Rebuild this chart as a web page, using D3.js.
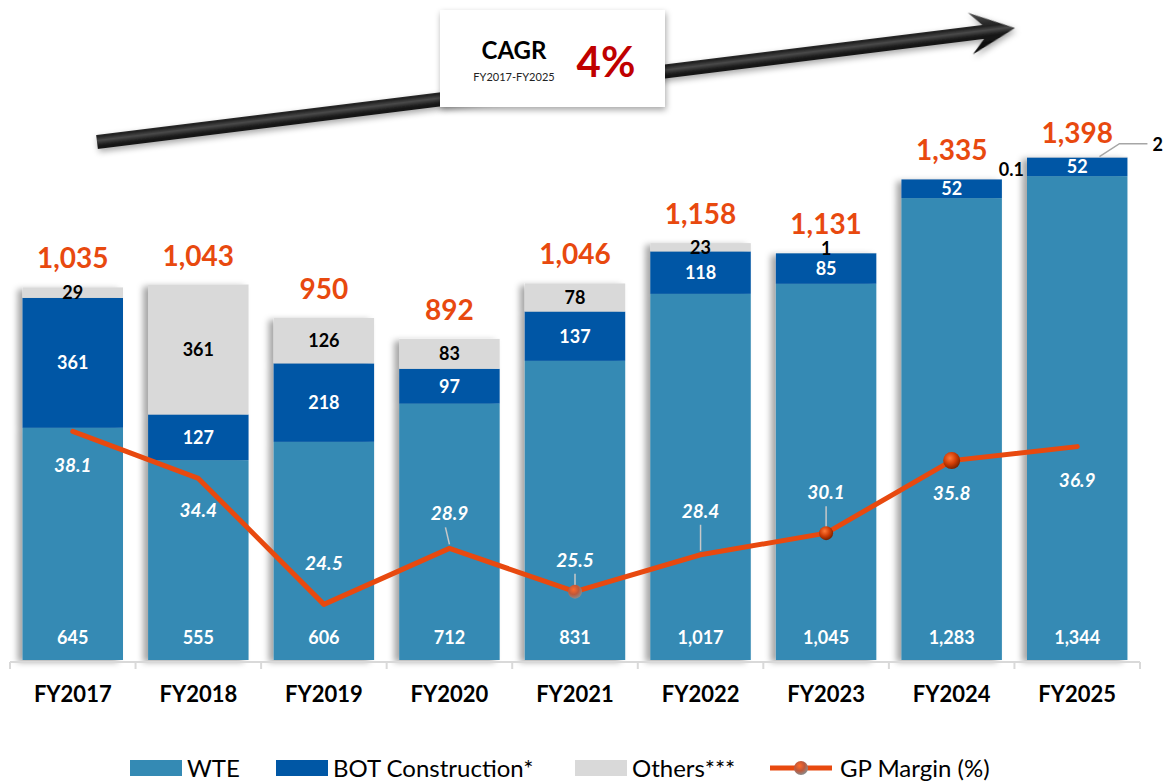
<!DOCTYPE html>
<html lang="en">
<head>
    <meta charset="UTF-8">
    <title>Revenue by segment FY2017-FY2025</title>
    <script src="https://d3js.org/d3.v7.min.js"></script>
    <style>
        body { margin: 0; background: #fff; }
        text { font-family: Lato, "Open Sans", sans-serif; }
    </style>
</head>
<body>
    <div id="chart"></div>

    <script>
        // data
        const years = ["FY2017", "FY2018", "FY2019", "FY2020", "FY2021", "FY2022", "FY2023", "FY2024", "FY2025"];
        const wte = [645, 555, 606, 712, 831, 1017, 1045, 1283, 1344];
        const bot = [361, 127, 218, 97, 137, 118, 85, 52, 52];
        const others = [29, 361, 126, 83, 78, 23, 1, 0.1, 2];
        const totals = [1035, 1043, 950, 892, 1046, 1158, 1131, 1335, 1398];
        const gpMargin = [38.1, 34.4, 24.5, 28.9, 25.5, 28.4, 30.1, 35.8, 36.9];

        // label placement for the margin values (px above / below the point)
        const marginLabelDy = [34, 32, -41, -35, -32, -44, -41, 32, 33];
        const leaderLine = [false, false, false, true, true, true, true, false, false];
        const markerAt = [null, null, null, null, "grey", null, "dark", "big", null];

        const width = 1166, height = 782;
        const colWTE = "#348ab4", colBOT = "#0057a5", colOth = "#d9d9d9", colLine = "#e8490f";

        const svg = d3.select("#chart").append("svg")
            .attr("width", width)
            .attr("height", height);

        const defs = svg.append("defs");
        const sh = defs.append("filter").attr("id", "barShadow")
            .attr("x", "-20%").attr("y", "-10%").attr("width", "140%").attr("height", "120%");
        sh.append("feDropShadow").attr("dx", -5).attr("dy", 2).attr("stdDeviation", 3)
            .attr("flood-color", "#000").attr("flood-opacity", 0.35);

        const sh2 = defs.append("filter").attr("id", "softShadow")
            .attr("x", "-10%").attr("y", "-30%").attr("width", "120%").attr("height", "170%");
        sh2.append("feDropShadow").attr("dx", 1).attr("dy", 3).attr("stdDeviation", 3)
            .attr("flood-color", "#000").attr("flood-opacity", 0.35);

        const ag = defs.append("linearGradient").attr("id", "arrowGrad")
            .attr("gradientUnits", "userSpaceOnUse")
            .attr("x1", 0).attr("y1", -22).attr("x2", 0).attr("y2", 22);
        ag.append("stop").attr("offset", "0%").attr("stop-color", "#555");
        ag.append("stop").attr("offset", "38%").attr("stop-color", "#222");
        ag.append("stop").attr("offset", "47%").attr("stop-color", "#4a4a4a");
        ag.append("stop").attr("offset", "58%").attr("stop-color", "#1a1a1a");
        ag.append("stop").attr("offset", "100%").attr("stop-color", "#000");

        function ballGrad(id, c0, c1, c2) {
            const g = defs.append("radialGradient").attr("id", id)
                .attr("cx", "40%").attr("cy", "35%").attr("r", "65%");
            g.append("stop").attr("offset", "0%").attr("stop-color", c0);
            g.append("stop").attr("offset", "55%").attr("stop-color", c1);
            g.append("stop").attr("offset", "100%").attr("stop-color", c2);
        }
        ballGrad("ballDark", "#ff7a3a", "#d13d06", "#7a2200");
        ballGrad("ballGrey", "#ff6a2a", "#c0583a", "#8a8a8a");

        // scales
        const x = d3.scaleBand().domain(years).range([10, 1140]).paddingInner(0.2).paddingOuter(0.1);
        const y = d3.scaleLinear().domain([0, 1400]).range([660, 156]);
        const yM = d3.scaleLinear().domain([0, 50]).range([916, 280]);

        // growth arrow
        const p0 = [97, 142], p1 = [1015, 28];
        const ang = Math.atan2(p1[1] - p0[1], p1[0] - p0[0]) * 180 / Math.PI;
        const len = Math.hypot(p1[0] - p0[0], p1[1] - p0[1]);
        svg.append("g")
            .attr("transform", `translate(${p0[0]},${p0[1]}) rotate(${ang})`)
            .attr("filter", "url(#softShadow)")
            .append("path")
            .attr("d", `M0,-7 L${len - 32},-7 L${len - 45},-21 L${len},0 L${len - 45},21 L${len - 32},7 L0,7 Z`)
            .attr("fill", "url(#arrowGrad)");

        // CAGR box
        const box = svg.append("g");
        box.append("rect").attr("x", 440).attr("y", 10).attr("width", 225).attr("height", 97)
            .attr("fill", "#fff").attr("filter", "url(#softShadow)");
        box.append("text").attr("x", 514).attr("y", 59).attr("text-anchor", "middle")
            .attr("font-size", 24).attr("font-weight", 700).attr("fill", "#000").text("CAGR");
        box.append("text").attr("x", 514).attr("y", 81).attr("text-anchor", "middle")
            .attr("font-size", 11).attr("fill", "#222").text("FY2017-FY2025");
        box.append("text").attr("x", 606).attr("y", 77).attr("text-anchor", "middle")
            .attr("font-size", 42).attr("font-weight", 700).attr("fill", "#c00000").text("4%");

        // stacked bars
        const rows = years.map((yr, i) => ({ year: yr, WTE: wte[i], BOT: bot[i], Others: others[i] }));
        const keys = ["WTE", "BOT", "Others"];
        const colors = { WTE: colWTE, BOT: colBOT, Others: colOth };
        const stacked = d3.stack().keys(keys)(rows);

        const cols = svg.append("g").selectAll("g.col")
            .data(years)
            .join("g")
            .attr("class", "col")
            .attr("filter", "url(#barShadow)");

        cols.each(function (yr, i) {
            const g = d3.select(this);
            stacked.forEach(layer => {
                const d = layer[i];
                g.append("rect")
                    .attr("x", x(yr))
                    .attr("width", x.bandwidth())
                    .attr("y", y(d[1]))
                    .attr("height", y(d[0]) - y(d[1]))
                    .attr("fill", colors[layer.key]);
            });
        });

        // axis
        const axisY = 662;
        svg.append("line").attr("x1", 10).attr("x2", 1140).attr("y1", axisY).attr("y2", axisY)
            .attr("stroke", "#d9d9d9").attr("stroke-width", 2);
        svg.append("g").selectAll("line")
            .data(d3.range(years.length + 1))
            .join("line")
            .attr("x1", i => 10 + i * x.step()).attr("x2", i => 10 + i * x.step())
            .attr("y1", axisY).attr("y2", axisY + 7)
            .attr("stroke", "#d9d9d9").attr("stroke-width", 2);

        const xAxis = svg.append("g")
            .attr("transform", `translate(0,${axisY})`)
            .call(d3.axisBottom(x).tickSize(0).tickPadding(24));
        xAxis.select(".domain").remove();
        xAxis.selectAll("text")
            .attr("font-size", 22).attr("font-weight", 700).attr("fill", "#000")
            .style("font-family", "Lato, sans-serif");

        // segment labels
        const lab = svg.append("g").attr("font-weight", 700).attr("text-anchor", "middle");
        lab.selectAll("text.wte").data(rows).join("text")
            .attr("x", d => x(d.year) + x.bandwidth() / 2)
            .attr("y", y(0) - 16)
            .attr("font-size", 18).attr("fill", "#fff")
            .text(d => d3.format(",")(d.WTE));

        lab.selectAll("text.bot").data(rows).join("text")
            .attr("x", d => x(d.year) + x.bandwidth() / 2)
            .attr("y", d => y(d.WTE + d.BOT / 2) + 6.5)
            .attr("font-size", 18).attr("fill", "#fff")
            .text(d => d.BOT);

        const othRows = rows.filter(d => d.year !== "FY2024" && d.year !== "FY2025");
        lab.selectAll("text.oth").data(othRows).join("text")
            .attr("x", d => x(d.year) + x.bandwidth() / 2)
            .attr("y", d => y(d.WTE + d.BOT + d.Others / 2) + (d.Others < 5 ? 2 : 6.5))
            .attr("font-size", 18).attr("fill", "#000")
            .text(d => d.Others);

        // the two tiny "others" values sit outside their bars
        const r24 = rows[7], r25 = rows[8];
        lab.append("text")
            .attr("x", x("FY2025") - 3)
            .attr("y", y(r24.WTE + r24.BOT) - 3)
            .attr("text-anchor", "end").attr("font-size", 18).attr("fill", "#000")
            .text(r24.Others);
        const top25 = y(r25.WTE + r25.BOT + r25.Others);
        const right25 = x("FY2025") + x.bandwidth();
        svg.append("polyline")
            .attr("points", `${right25 - 28},${top25} ${right25 - 8},${top25 - 13} ${right25 + 20},${top25 - 13}`)
            .attr("fill", "none").attr("stroke", "#a6a6a6").attr("stroke-width", 1.5);
        lab.append("text")
            .attr("x", right25 + 25)
            .attr("y", top25 - 6)
            .attr("text-anchor", "start").attr("font-size", 18).attr("fill", "#000")
            .text(r25.Others);

        // totals
        lab.selectAll("text.tot").data(rows).join("text")
            .attr("x", d => x(d.year) + x.bandwidth() / 2)
            .attr("y", (d, i) => y(totals[i]) - (i === 8 ? 14 : 19))
            .attr("font-size", 28).attr("fill", colLine)
            .text((d, i) => d3.format(",")(totals[i]));

        // GP margin line
        const pts = years.map((yr, i) => [x(yr) + x.bandwidth() / 2, yM(gpMargin[i])]);
        svg.append("path")
            .attr("d", d3.line()(pts))
            .attr("fill", "none").attr("stroke", colLine)
            .attr("stroke-width", 5).attr("stroke-linejoin", "round").attr("stroke-linecap", "round");

        // leader lines from labels
        svg.append("g").selectAll("line")
            .data(pts.map((p, i) => ({ p, i })).filter(d => leaderLine[d.i]))
            .join("line")
            .attr("x1", d => d.p[0] - (d.i === 3 ? 4 : 0))
            .attr("x2", d => d.p[0])
            .attr("y1", d => d.p[1] + marginLabelDy[d.i] + 14)
            .attr("y2", d => d.p[1] - 4)
            .attr("stroke", "#c8c8c8").attr("stroke-width", 1.5);

        // markers
        svg.append("g").selectAll("circle")
            .data(pts.map((p, i) => ({ p, m: markerAt[i] })).filter(d => d.m))
            .join("circle")
            .attr("cx", d => d.p[0]).attr("cy", d => d.p[1])
            .attr("r", d => d.m === "big" ? 8.5 : 7)
            .attr("fill", d => d.m === "grey" ? "url(#ballGrey)" : "url(#ballDark)");

        // margin labels
        svg.append("g").selectAll("text")
            .data(pts.map((p, i) => ({ p, i })))
            .join("text")
            .attr("x", d => d.p[0])
            .attr("y", d => d.p[1] + marginLabelDy[d.i] + 7)
            .attr("text-anchor", "middle")
            .attr("font-size", 19).attr("font-weight", 700).attr("font-style", "italic")
            .attr("fill", "#fff")
            .text(d => gpMargin[d.i].toFixed(1));

        // legend
        const leg = svg.append("g").attr("font-size", 24).attr("fill", "#000");
        const items = [
            { label: "WTE", x: 130, color: colWTE },
            { label: "BOT Construction*", x: 276, color: colBOT },
            { label: "Others***", x: 575, color: colOth }
        ];
        items.forEach(it => {
            leg.append("rect").attr("x", it.x).attr("y", 760).attr("width", 52).attr("height", 16).attr("fill", it.color);
            leg.append("text").attr("x", it.x + 57).attr("y", 777).text(it.label);
        });
        leg.append("line").attr("x1", 770).attr("x2", 832).attr("y1", 768).attr("y2", 768)
            .attr("stroke", colLine).attr("stroke-width", 5);
        leg.append("circle").attr("cx", 801).attr("cy", 768).attr("r", 7).attr("fill", "url(#ballGrey)");
        leg.append("text").attr("x", 840).attr("y", 777).text("GP Margin (%)");
    </script>
</body>
</html>
